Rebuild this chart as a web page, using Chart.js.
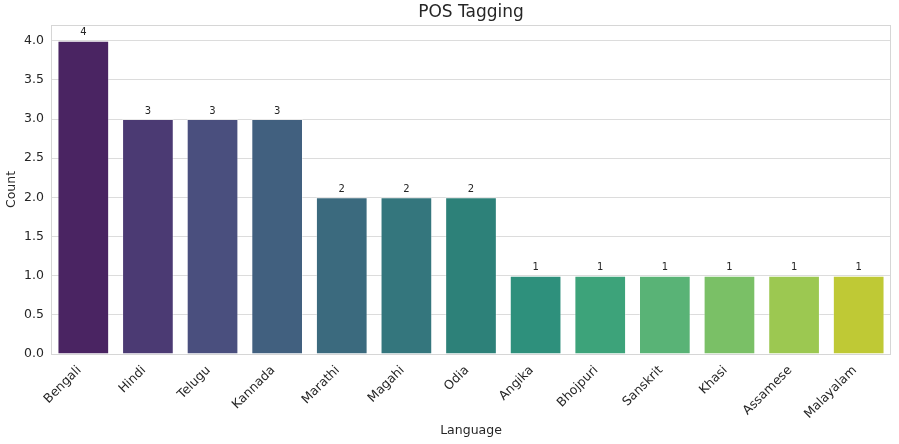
<!DOCTYPE html>
<html><head><meta charset="utf-8">
<script src="https://cdn.jsdelivr.net/npm/chart.js@4"></script>
<style>html,body{margin:0;padding:0;background:#fff}#wrap{width:899px;height:444px}</style>
</head><body><div id="wrap"><canvas id="c" width="899" height="444"></canvas></div>
<script>
const languages = ["Bengali","Hindi","Telugu","Kannada","Marathi","Magahi","Odia","Angika","Bhojpuri","Sanskrit","Khasi","Assamese","Malayalam"];
const counts = [4,3,3,3,2,2,2,1,1,1,1,1,1];
const barColors = ["#4a2462","#4b3a73","#4a4f7e","#41607f","#3b6a7e","#34767d","#2d8179","#2e907c","#3da37a","#59b376","#7ac066","#9cc851","#bfc935"];
const yTicks = [0,0.5,1,1.5,2,2.5,3,3.5,4];
const chartTitle = "POS Tagging";

const FONT = "'DejaVu Sans', sans-serif";
const TXT = "#262626";

const frame = {
  id: 'frame',
  afterDatasetsDraw(chart) {
    const {ctx, chartArea: a} = chart;
    ctx.save();
    ctx.strokeStyle = "#d6d6d6";
    ctx.lineWidth = 1;
    ctx.strokeRect(Math.round(a.left)+0.5, Math.round(a.top)+0.5, Math.round(a.right-a.left)-1, Math.round(a.bottom-a.top));
    const meta = chart.getDatasetMeta(0);
    ctx.fillStyle = TXT;
    ctx.font = "10px " + FONT;
    ctx.textAlign = "center";
    ctx.textBaseline = "bottom";
    meta.data.forEach((bar, i) => {
      ctx.fillText(String(counts[i]), bar.x, bar.y - 3);
    });
    ctx.font = "17px " + FONT;
    ctx.textBaseline = "middle";
    ctx.fillText(chartTitle, (a.left + a.right) / 2, 13);
    ctx.restore();
  }
};

new Chart(document.getElementById('c'), {
  type: 'bar',
  data: {
    labels: languages,
    datasets: [{
      data: counts,
      backgroundColor: barColors,
      borderColor: "rgba(255,255,255,0.35)",
      borderWidth: 1,
      barPercentage: 0.8,
      categoryPercentage: 1.0
    }]
  },
  options: {
    responsive: false,
    animation: false,
    devicePixelRatio: 1,
    layout: {padding: {left: 4, right: 8, top: 25, bottom: 4}},
    plugins: {
      legend: {display: false},
      tooltip: {enabled: false},
      title: {display: false}
    },
    scales: {
      x: {
        offset: true,
        grid: {display: false},
        border: {display: false},
        ticks: {
          color: TXT,
          font: {family: FONT, size: 12.5},
          minRotation: 45, maxRotation: 45,
          autoSkip: false,
          padding: 1,
          labelOffset: -4
        },
        title: {
          display: true, text: "Language", color: TXT,
          font: {family: FONT, size: 12.5}, padding: {top: 4, bottom: 2}
        },
        afterFit(s) { s.height = 86; }
      },
      y: {
        min: 0, max: 4.2,
        grid: {color: "#dcdcdc", lineWidth: 1, drawTicks: false},
        border: {display: false},
        afterBuildTicks(s) { s.ticks = yTicks.map(v => ({value: v})); },
        ticks: {
          color: TXT,
          font: {family: FONT, size: 12.5},
          padding: 7,
          callback: v => Number(v).toFixed(1)
        },
        title: {
          display: true, text: "Count", color: TXT,
          font: {family: FONT, size: 12.5}, padding: {top: 0, bottom: 3}
        },
        afterFit(s) { s.width = 47; }
      }
    }
  },
  plugins: [frame]
});
</script>
</body></html>
